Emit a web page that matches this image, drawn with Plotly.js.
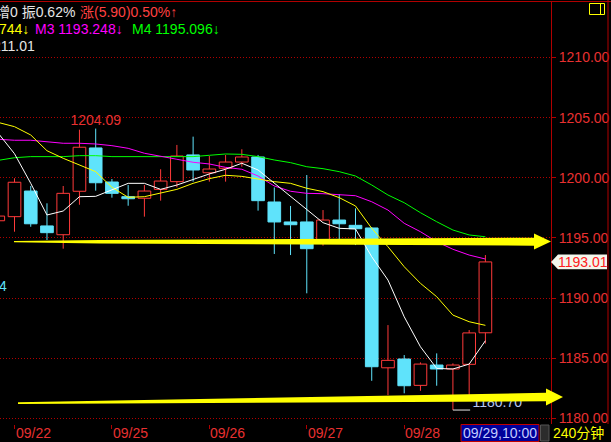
<!DOCTYPE html>
<html><head><meta charset="utf-8">
<script src="https://cdn.plot.ly/plotly-3.0.1.min.js"></script>
<style>html,body{margin:0;padding:0;background:#000;}#chart{width:611px;height:442px;}</style>
</head><body><div id="chart"></div>
<script>
// ---- data (bar index 0..30, 240-minute bars) ----
const openP  = [1196.43,1196.77,1198.90,1196.00,1195.27,1198.88,1202.48,1199.65,1198.43,1198.30,
                1199.04,1199.68,1201.90,1200.42,1200.79,1201.31,1201.73,1197.99,1196.33,1196.33,
                1194.83,1196.49,1196.05,1195.83,1184.21,1184.94,1182.75,1184.44,1184.11,1184.50,1187.12];
const highP  = [1197.00,1199.96,1199.32,1197.88,1199.32,1204.00,1204.09,1199.90,1199.40,1199.40,
                1200.71,1202.73,1203.42,1201.81,1201.90,1202.37,1201.90,1199.20,1197.66,1200.23,
                1197.32,1198.65,1197.46,1195.90,1187.76,1185.27,1184.66,1185.41,1184.58,1187.35,1193.58];
const lowP   = [1196.10,1195.52,1195.93,1194.83,1194.11,1197.76,1198.93,1198.35,1197.68,1196.77,
                1198.10,1199.21,1199.68,1199.68,1199.68,1200.92,1197.27,1193.67,1193.58,1190.40,
                1194.36,1194.75,1194.41,1183.13,1181.94,1182.09,1182.30,1182.72,1180.70,1181.94,1186.22];
const closeP = [1196.82,1199.63,1196.18,1195.44,1198.71,1202.54,1199.59,1198.71,1198.26,1198.90,
                1199.73,1201.81,1200.65,1200.73,1201.31,1201.73,1198.10,1196.33,1196.10,1194.11,
                1196.49,1196.18,1195.77,1184.30,1184.83,1182.72,1184.52,1184.11,1184.44,1187.11,1193.01];
const maWhite  = [1203.70,1202.00,1199.54,1196.91,1197.24,1198.43,1198.46,1198.99,1199.54,1199.54,
                  1199.04,1199.40,1199.88,1200.32,1200.71,1201.21,1200.65,1199.54,1198.43,1197.32,
                  1196.27,1195.80,1195.75,1193.44,1191.50,1188.45,1185.96,1184.16,1184.11,1184.52,1186.46];
const maYellow = [1204.60,1204.25,1203.56,1202.25,1201.62,1201.06,1200.51,1199.21,1198.38,1198.43,
                  1198.71,1199.04,1199.54,1199.93,1200.21,1200.12,1199.90,1199.68,1199.54,1199.13,
                  1198.85,1198.35,1197.66,1195.80,1194.27,1192.61,1191.23,1190.12,1188.59,1188.04,1187.74];
const maMagenta= [1203.20,1203.12,1203.12,1203.00,1202.87,1202.87,1202.81,1202.67,1202.45,1202.04,
                  1201.76,1201.54,1201.29,1201.15,1200.87,1200.71,1200.15,1199.32,1198.88,1198.71,
                  1198.68,1198.57,1198.51,1198.01,1197.32,1196.22,1195.52,1194.69,1194.06,1193.58,1193.25];
const maGreen  = [1201.45,1201.67,1201.76,1201.76,1201.76,1201.84,1201.84,1201.76,1201.76,1201.76,
                  1201.76,1201.76,1201.76,1201.87,1201.98,1201.95,1201.76,1201.48,1201.26,1200.92,
                  1200.76,1200.51,1200.15,1199.40,1198.57,1197.93,1197.10,1196.35,1195.66,1195.25,1195.10];
const tickIndex  = [1, 7, 13, 19, 25];
const tickLabels = ['09/22', '09/25', '09/26', '09/27', '09/28'];
const priceTicks = [1180, 1185, 1190, 1195, 1200, 1205, 1210];
const cursorLabel = '09/29,10:00';
const periodLabel = '240分钟';
const headRow1a = '增0 振0.62%';
const headRow1b = '涨(5.90)0.50%↑';
const headRow2a = '744↓';
const headRow2b = 'M3 1193.248↓';
const headRow2c = 'M4 1195.096↓';
const headRow3  = '211.01';

// ---- colours ----
const UP = '#ff3a3a', DOWN = '#5fe3fb', FRAME = '#b00000', LABEL = '#e83030';
const FONT = 'Liberation Sans, Arial, Noto Sans CJK SC, sans-serif';

// ---- geometry helpers (decoration only) ----
const PL = 0, PR = 551, PT = 2, PB = 424;
const px = x => (x - PL) / (PR - PL);
const py = y => (PB - y) / (PB - PT);
const P = (x, y) => px(x).toFixed(5) + ',' + py(y).toFixed(5);

// ---- build candle traces ----
const idx = openP.map((_, i) => i);
const upI = idx.filter(i => closeP[i] >= openP[i]);
const dnI = idx.filter(i => closeP[i] < openP[i]);
function bars(ids, fill, line) {
  return {type: 'bar', x: ids, base: ids.map(i => Math.min(openP[i], closeP[i])),
    y: ids.map(i => Math.max(Math.abs(closeP[i] - openP[i]), 0.02)), width: 0.78,
    marker: {color: fill, line: {color: line, width: 1}}, hoverinfo: 'skip', showlegend: false};
}
function wicks(ids, color) {
  const xs = [], ys = [];
  ids.forEach(i => {
    const top = Math.max(openP[i], closeP[i]), bot = Math.min(openP[i], closeP[i]);
    xs.push(i, i, null, i, i, null);
    ys.push(highP[i], top, null, bot, lowP[i], null);
  });
  return {type: 'scatter', mode: 'lines', x: xs, y: ys, line: {color: color, width: 1},
    connectgaps: false, hoverinfo: 'skip', showlegend: false};
}
function ma(vals, color) {
  return {type: 'scatter', mode: 'lines', x: idx, y: vals, line: {color: color, width: 1},
    hoverinfo: 'skip', showlegend: false};
}
const last = closeP.length - 1;
const lowVal = Math.min(...lowP), lowAt = lowP.indexOf(lowVal);
const highVal = Math.max(...highP), highAt = highP.indexOf(highVal);

const traces = [
  bars(upI, '#000000', UP),
  bars(dnI, DOWN, DOWN),
  wicks(upI, UP),
  wicks(dnI, DOWN),
  ma(maGreen, '#00ff00'),
  ma(maMagenta, '#ff00ff'),
  ma(maYellow, '#ffff00'),
  ma(maWhite, '#ffffff'),
  {type: 'scatter', mode: 'lines', x: [lowAt, lowAt + 1.06], y: [lowVal, lowVal],
   line: {color: '#e8e8e8', width: 1}, hoverinfo: 'skip', showlegend: false},
  {type: 'scatter', mode: 'text', x: [lowAt + 1.2], y: [lowVal], text: [lowVal.toFixed(2)],
   textposition: 'top right', textfont: {color: '#b8c8f0', size: 14, family: FONT},
   hoverinfo: 'skip', showlegend: false, cliponaxis: false},
  {type: 'scatter', mode: 'text', x: [highAt], y: [highVal], text: [highVal.toFixed(2)],
   textposition: 'top center', textfont: {color: LABEL, size: 14, family: FONT},
   hoverinfo: 'skip', showlegend: false, cliponaxis: false}
];

// ---- decorations ----
const shapes = [
  // frame lines
  {type: 'line', xref: 'paper', yref: 'paper', x0: px(0), x1: px(611), y0: py(1.5), y1: py(1.5), line: {color: FRAME, width: 1}},
  {type: 'line', xref: 'paper', yref: 'paper', x0: px(608), x1: px(608), y0: py(0), y1: py(424), line: {color: FRAME, width: 1}},
  // upper yellow arrow
  {type: 'path', xref: 'paper', yref: 'paper', layer: 'above', fillcolor: '#ffff00', line: {width: 0},
   path: 'M' + P(14, 240.9) + ' L' + P(100, 240) + ' L' + P(534, 237.7) + ' L' + P(534, 233.5) + ' L' + P(551, 241.6) +
         ' L' + P(534, 249.5) + ' L' + P(534, 245.7) + ' L' + P(100, 243.5) + ' L' + P(14, 242.3) + ' Z'},
  // lower yellow arrow
  {type: 'path', xref: 'paper', yref: 'paper', layer: 'above', fillcolor: '#ffff00', line: {width: 0},
   path: 'M' + P(18, 402.3) + ' L' + P(546, 392.8) + ' L' + P(546, 388.5) + ' L' + P(563, 397) +
         ' L' + P(546, 405.5) + ' L' + P(546, 401.2) + ' L' + P(18, 404) + ' Z'},
  // last price tag
  {type: 'path', xref: 'paper', yref: 'y', layer: 'above', fillcolor: '#f2f6ec', line: {width: 0},
   path: 'M' + px(551).toFixed(5) + ',' + closeP[last] +
         ' L' + px(558).toFixed(5) + ',' + (closeP[last] + 0.62) +
         ' L' + px(607).toFixed(5) + ',' + (closeP[last] + 0.62) +
         ' L' + px(607).toFixed(5) + ',' + (closeP[last] - 0.62) +
         ' L' + px(558).toFixed(5) + ',' + (closeP[last] - 0.62) + ' Z'},
  // cursor time box
  {type: 'rect', xref: 'paper', yref: 'paper', x0: px(461), x1: px(539), y0: py(424.5), y1: py(441.5),
   fillcolor: '#00009a', line: {color: '#c00000', width: 1}},
  {type: 'rect', xref: 'paper', yref: 'paper', x0: px(540.5), x1: px(549), y0: py(425), y1: py(441),
   fillcolor: '#2c2c2c', line: {color: '#555555', width: 1}},
  // top-right small yellow box
  {type: 'rect', xref: 'paper', yref: 'paper', x0: px(589.5), x1: px(604.5), y0: py(3.5), y1: py(14.5),
   fillcolor: 'rgba(0,0,0,0)', line: {color: '#ffff00', width: 1}},
  {type: 'line', xref: 'paper', yref: 'paper', x0: px(600.5), x1: px(600.5), y0: py(3.5), y1: py(14.5),
   line: {color: '#ffff00', width: 1}}
];

function note(text, x, y, color, anchor) {
  return {text: text, xref: 'paper', yref: 'paper', x: px(x), y: py(y), xanchor: anchor || 'left',
    yanchor: 'middle', showarrow: false, font: {color: color, size: 14, family: FONT}, borderpad: 0};
}
const annotations = [
  note(headRow1a, -5, 12.5, '#e6e6e6'),
  note(headRow1b, 79, 12.5, '#ff4040'),
  note(headRow2a, -2, 29, '#ffff00'),
  note(headRow2b, 34, 29, '#ff00ff'),
  note(headRow2c, 131, 29, '#00ff00'),
  note(headRow3, -8, 45.5, '#e6e6e6'),
  note('4', -2, 286, DOWN),
  note(cursorLabel, 500, 433, '#c4ccff', 'center'),
  note(periodLabel, 552, 433, '#ffff00'),
  {text: closeP[last].toFixed(2), xref: 'paper', yref: 'y', x: px(583), y: closeP[last], xanchor: 'center',
   yanchor: 'middle', showarrow: false, font: {color: '#ff2020', size: 14, family: FONT}}
];
// date labels, left-aligned just right of each tick
tickIndex.forEach((t, k) => annotations.push({text: tickLabels[k], xref: 'x', yref: 'paper', x: t,
  y: py(432.5), xanchor: 'left', yanchor: 'middle', xshift: 0, showarrow: false, borderpad: 0,
  font: {color: LABEL, size: 14, family: FONT}}));

const layout = {
  width: 611, height: 442,
  margin: {l: 0, r: 60, t: 2, b: 18, pad: 0},
  paper_bgcolor: '#000000', plot_bgcolor: '#000000',
  barmode: 'overlay', showlegend: false,
  font: {family: FONT, color: LABEL, size: 14},
  xaxis: {range: [0.107, 34.04], showgrid: false, zeroline: false, showline: false,
    tickmode: 'array', tickvals: tickIndex, showticklabels: false,
    ticks: 'outside', ticklen: 4, tickcolor: FRAME, tickwidth: 1, fixedrange: true},
  yaxis: {range: [1179.54, 1214.61], side: 'right', tickmode: 'array', tickvals: priceTicks,
    tickformat: '.2f', ticks: 'outside', ticklen: 4, tickcolor: FRAME, tickwidth: 1,
    tickfont: {color: LABEL, size: 14, family: FONT},
    showgrid: true, gridcolor: '#b00000', gridwidth: 1, griddash: '1px,2px',
    zeroline: false, showline: true, linecolor: FRAME, linewidth: 1, fixedrange: true},
  shapes: shapes,
  annotations: annotations
};
Plotly.newPlot('chart', traces, layout, {displayModeBar: false, staticPlot: true});
</script></body></html>
